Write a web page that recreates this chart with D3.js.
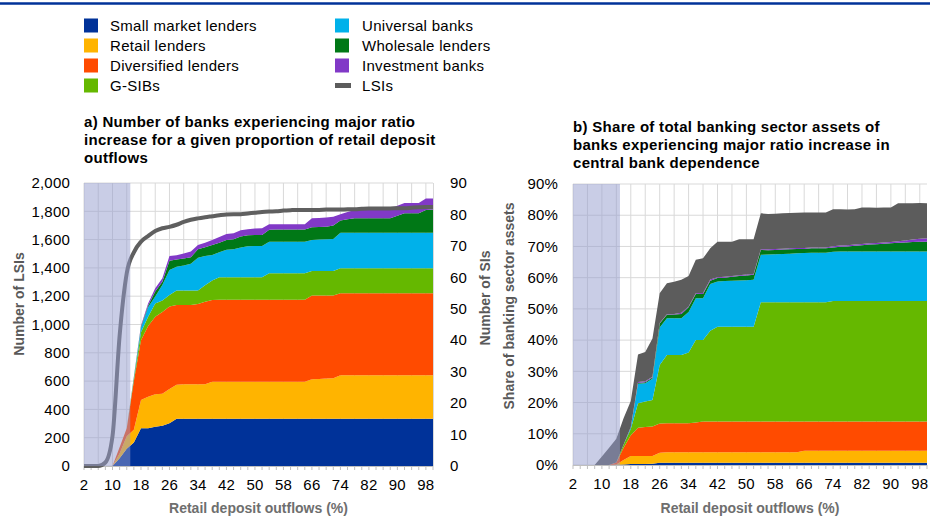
<!DOCTYPE html>
<html><head><meta charset="utf-8">
<script src="https://cdn.jsdelivr.net/npm/d3@7"></script>
<style>
body{margin:0;background:#fff;}
svg{font-family:"Liberation Sans",Arial,sans-serif;}
.tk{font-size:15px;letter-spacing:0.2px;fill:#000;}
.lg{font-size:15px;letter-spacing:0.3px;fill:#000;}
.tt{font-size:15px;letter-spacing:0.3px;font-weight:bold;fill:#000;}
.at{font-size:14px;font-weight:bold;}
</style></head><body>
<svg id="c" width="930" height="518"></svg>
<script>
// ---------- DATA ----------
const outflows = d3.range(2, 101, 2); // retail deposit outflows (%)
const xTickLabels = d3.range(2, 99, 8);
const seriesNames = ["Small market lenders","Retail lenders","Diversified lenders","G-SIBs","Universal banks","Wholesale lenders","Investment banks","LSIs"];
const seriesColors = ["#003299","#ffb400","#ff4b00","#65b800","#00b1ea","#007816","#8139c7","#5c5c5c"];
const shadedUpTo = 15;

// Panel a) number of SIs (right axis) by business model
const smallA = [0,0,0,0,0,2.5,5.5,7.5,12,12, 12.5,12.8,13.6,15,15,15,15,15,15,15, 15,15,15,15,15,15,15,15,15,15, 15,15,15,15,15,15,15,15,15,15, 15,15,15,15,15,15,15,15,15,15];
const retailA = [0,0,0,0,0,1.5,4,4,9,10, 10.3,10.2,10.9,10.8,11,11,11,11,11.8,11.8, 11.8,11.8,11.8,11.8,11.8,11.8,11.8,11.8,11.8,11.8, 11.8,11.8,12.6,12.7,12.8,12.9,13.9,13.9,13.9,13.9, 13.9,13.9,13.9,13.9,13.9,13.9,13.9,13.9,13.9,13.9];
const diversifiedA = [0,0,0,0,0,2,2.5,15.5,19,22.5, 24.7,26,26.2,25.4,25.2,25.2,25.5,26.2,26,26.1, 26.1,26.1,26.1,26.1,26.1,26.1,26.1,26.1,26.1,26.1, 26.1,26.1,26.6,26.5,26.4,26.3,26,26,26,26, 26,26,26,26,26,26,26,26,26,26];
const gsibA = [0,0,0,0,0,0,0,0.7,2.5,3, 4.2,3.6,3.7,4.6,4.6,4.6,4.3,5.3,6.2,7.1, 7.1,7.1,7.1,7.1,7.1,7.1,8.4,8.4,8.4,8.4, 8.4,8.4,7.8,7.8,7.8,7.8,8,8,8,8, 8,8,8,8,8,8,8,8,8,8];
const universalA = [0,0,0,0,0,0,0,0.3,1.5,3, 2.2,5,7.9,7.6,8,8.5,10.4,9.3,8.1,8, 8.8,8.9,9.5,9.9,10,10,10,10,10,10, 10,10,9.9,10,10.1,10.2,11.3,11.3,11.3,11.3, 11.3,11.3,11.3,11.3,11.3,11.3,11.3,11.3,11.3,11.3];
const wholesaleA = [0,0,0,0,0,0,0,0.2,0.3,0.5, 1.6,1,3,2.3,2.2,2.1,2.7,2.8,3.2,3, 3.1,3.2,3.5,3.5,3.5,3.5,3.8,3.9,3.9,3.9, 3.9,3.9,4,4,4,4.3,3.9,4.3,4.6,4.6, 4.6,4.6,4.6,4.6,5.4,6.2,6.2,6.2,7.2,7.4];
const investmentA = [0,0,0,0,0,0,0,0.2,0.4,0.7, 1,1.1,1.5,1.3,1.6,1.8,1.4,1.4,1.6,1.8, 1.9,1.9,2,1.9,2,2.1,1.8,1.7,1.7,1.7, 1.7,1.7,2.9,2.9,2.9,2.8,2,2.3,2.6,2.8, 3.2,3.2,3.2,3.2,3.2,3.2,3.2,3.2,3.7,3.5];
// Panel a) number of LSIs (left axis)
const lsiA = [0,0,0,25,210,920,1362,1510,1585,1625, 1660,1680,1690,1705,1725,1740,1750,1758,1765,1772, 1778,1780,1780,1785,1790,1795,1798,1800,1805,1808, 1810,1810,1810,1810,1812,1812,1812,1815,1815,1818, 1820,1820,1820,1820,1822,1822,1825,1828,1830,1830];

// Panel b) share of total banking sector assets (%)
const smallB = [0,0,0,0,0,0,0.1,0.2,0.3,0.3, 0.3,0.4,0.7,0.7,0.7,0.7,0.7,0.7,0.7,0.7, 0.7,0.7,0.7,0.7,0.7,0.7,0.7,0.7,0.7,0.7, 0.7,0.7,0.7,0.7,0.7,0.7,0.7,0.7,0.7,0.7, 0.7,0.7,0.7,0.7,0.7,0.7,0.7,0.7,0.7,0.7];
const retailB = [0,0,0,0,0,0,0.1,1.4,2.6,2.6, 2.6,2.5,3.2,3.4,3.4,3.4,3.4,3.4,3.4,3.4, 3.4,3.4,3.4,3.4,3.4,3.4,3.4,3.4,3.4,3.4, 3.4,3.4,3.9,3.9,3.9,3.9,3.9,3.9,3.9,3.9, 3.9,3.9,3.9,3.9,3.9,3.9,3.9,3.9,3.9,3.9];
const diversifiedB = [0,0,0,0,0,0,0.6,3.9,6.6,9, 9.3,9.4,9.4,9.3,9.3,9.3,9.3,9.5,9.8,9.8, 9.8,9.8,9.8,9.8,9.8,9.8,9.8,9.8,9.8,9.8, 9.8,9.8,9.3,9.3,9.3,9.3,9.3,9.3,9.3,9.3, 9.3,9.3,9.3,9.3,9.3,9.3,9.3,9.3,9.3,9.3];
const gsibB = [0,0,0,0,0,0,0,1,2,7.9, 8.1,8.5,18.7,21.8,21.8,21.8,22.6,26.4,26.1,29.1, 30.4,30.4,30.4,30.4,30.4,30.4,38.2,38.2,38.2,38.2, 38.2,38.2,38.2,38.2,38.2,38.2,38.6,38.6,38.6,38.6, 38.6,38.6,38.6,38.6,38.6,38.6,38.6,38.6,38.6,38.6];
const universalB = [0,0,0,0,0,0,0,0,0.5,6.2, 5.9,6.8,12,11.8,11.8,11.8,13,13.4,13.4,15, 14.5,14.6,14.7,14.8,14.9,15,15.2,15.3,15.4,15.5, 15.6,15.7,15.8,15.9,15.9,15.9,15.8,15.9,15.9,15.9, 15.9,15.9,15.9,15.9,15.9,15.9,15.9,15.9,15.9,15.9];
const wholesaleB = [0,0,0,0,0,0,0,0,0.1,0.3, 0.3,0.4,1.3,1.1,1.2,1.4,1.5,1.4,1.4,1, 1.1,1.1,1.3,1.4,1.5,1.6,1.6,1.4,1.4,1.4, 1.4,1.4,1.3,1.4,1.4,1.4,1.4,1.5,1.6,1.8, 2,2.2,2.3,2.5,2.6,2.8,2.9,3,3.1,3.1];
const investmentB = [0,0,0,0,0,0,0,0,0.1,0.3, 0.3,0.3,0.2,0.2,0.2,0.4,0.3,0.2,0.3,0.4, 0.2,0.3,0.2,0.3,0.3,0.3,0.2,0.3,0.3,0.3, 0.3,0.3,0.3,0.3,0.3,0.3,0.4,0.4,0.4,0.4, 0.4,0.4,0.4,0.4,0.4,0.5,0.6,0.8,1,1.1];
const lsiB = [0,0,0,0,2.7,5.5,7.6,8.5,8.3,8.8, 9.4,12.2,9.5,9.9,10.3,10.5,9.7,10.7,11.1,10, 11.4,11.2,11,11.5,11.3,11.1,11.5,11.3,11.3,11.3, 11.3,11.3,11.4,11.2,11.2,11.2,11.8,11.6,11.4,11.3, 11.7,11.5,11.3,11.2,11.1,12.1,11.9,11.6,11.4,11.2];

const titleA = ["a) Number of banks experiencing major ratio","increase for a given proportion of retail deposit","outflows"];
const titleB = ["b) Share of total banking sector assets of","banks experiencing major ratio increase in","central bank dependence"];
const lsiTicks = d3.range(0, 2001, 200);
const siTicks = d3.range(0, 91, 10);
const shareTicks = d3.range(0, 91, 10);

// ---------- DRAW ----------
const svg = d3.select("#c");
svg.append("rect").attr("width",930).attr("height",518).attr("fill","#fff");
svg.append("line").attr("x1",0).attr("x2",930).attr("y1",3.5).attr("y2",3.5)
  .attr("stroke","#003299").attr("stroke-width",2.5);

// legend
const legend = svg.append("g");
seriesNames.forEach((n,i)=>{
  const col = i < 4 ? 0 : 1, row = i % 4;
  const lx = col === 0 ? 84 : 335, ly = 25.5 + row*20;
  if (n === "LSIs") {
    legend.append("rect").attr("x",lx).attr("y",ly-2.5).attr("width",16).attr("height",5).attr("fill",seriesColors[i]);
  } else {
    legend.append("rect").attr("x",lx).attr("y",ly-7).attr("width",14).attr("height",14).attr("fill",seriesColors[i]);
  }
  legend.append("text").attr("class","lg").attr("x",col===0?110:362).attr("y",ly).attr("dy","0.35em").text(n);
});

function table(arrs){
  return outflows.map((x,i)=>{ const o={x}; arrs.forEach((a,k)=>o[seriesNames[k]]=a[i]); return o; });
}

function panel(cfg){
  const g = svg.append("g");
  const x = d3.scaleLinear().domain([2,100]).range(cfg.xr);
  const y = d3.scaleLinear().domain([0,90]).range(cfg.yr);
  const yGrid = cfg.gridScale;
  cfg.gridTicks.forEach(t=>{
    g.append("line").attr("x1",cfg.xr[0]).attr("x2",cfg.xr[1]).attr("y1",yGrid(t)).attr("y2",yGrid(t))
      .attr("stroke","#d9d9d9").attr("stroke-width",1);
  });
  d3.range(2,100,4).forEach(t=>{
    g.append("line").attr("x1",x(t)).attr("x2",x(t)).attr("y1",cfg.yr[0]).attr("y2",cfg.yr[1])
      .attr("stroke","#d9d9d9").attr("stroke-width",1);
  });
  const keys = seriesNames.slice(0, cfg.arrays.length);
  const stacked = d3.stack().keys(keys)(table(cfg.arrays));
  const area = d3.area().x(d=>x(d.data.x)).y0(d=>y(d[0])).y1(d=>y(d[1]));
  stacked.forEach((s,i)=>{
    g.append("path").attr("d",area(s)).attr("fill",seriesColors[i]);
  });
  g.append("line").attr("x1",cfg.xr[0]).attr("x2",cfg.xr[1]).attr("y1",cfg.yr[0]+0.5).attr("y2",cfg.yr[0]+0.5)
    .attr("stroke","#bfbfbf").attr("stroke-width",1.2);
  d3.range(2,101,2).forEach(t=>{
    g.append("line").attr("x1",x(t)).attr("x2",x(t)).attr("y1",cfg.yr[0]).attr("y2",cfg.yr[0]+4)
      .attr("stroke","#bfbfbf").attr("stroke-width",1);
  });
  xTickLabels.forEach(t=>{
    g.append("text").attr("class","tk").attr("x",x(t)).attr("y",cfg.yr[0]+24).attr("text-anchor","middle").text(t);
  });
  g.append("text").attr("class","at").attr("x",(cfg.xr[0]+cfg.xr[1])/2).attr("y",513).attr("text-anchor","middle")
    .attr("fill","#6e6e6e").text("Retail deposit outflows (%)");
  cfg.title.forEach((t,i)=>{
    g.append("text").attr("class","tt").attr("x",cfg.xr[0]).attr("y",cfg.titleY+i*18).text(t);
  });
  return {g,x,y};
}

// Panel a
const yLSI = d3.scaleLinear().domain([0,2000]).range([466,183]);
const pA = panel({xr:[84,433], yr:[466,183], gridScale:yLSI, gridTicks:lsiTicks,
  arrays:[smallA,retailA,diversifiedA,gsibA,universalA,wholesaleA,investmentA], title:titleA, titleY:127});
pA.g.append("path").datum(outflows.map((x,i)=>[x,lsiA[i]]))
  .attr("d",d3.line().x(d=>pA.x(d[0])).y(d=>yLSI(d[1])).curve(d3.curveMonotoneX))
  .attr("fill","none").attr("stroke","#5f5f5f").attr("stroke-width",4).attr("stroke-linejoin","round");
pA.g.append("rect").attr("x",pA.x(2)).attr("y",183).attr("width",pA.x(shadedUpTo)-pA.x(2)).attr("height",283)
  .attr("fill","rgb(148,156,206)").attr("fill-opacity",0.5);
pA.g.append("line").attr("x1",433.5).attr("x2",433.5).attr("y1",183).attr("y2",466).attr("stroke","#d9d9d9");
lsiTicks.forEach(t=>{
  pA.g.append("text").attr("class","tk").attr("x",70).attr("y",yLSI(t)).attr("dy","0.35em").attr("text-anchor","end")
    .text(d3.format(",")(t));
});
siTicks.forEach(t=>{
  pA.g.append("text").attr("class","tk").attr("x",450).attr("y",pA.y(t)).attr("dy","0.35em").attr("text-anchor","start").text(t);
});
svg.append("text").attr("class","at").attr("transform","translate(24,304) rotate(-90)").attr("text-anchor","middle")
  .attr("fill","#595959").text("Number of LSIs");
svg.append("text").attr("class","at").attr("transform","translate(490,298) rotate(-90)").attr("text-anchor","middle")
  .attr("fill","#595959").text("Number of SIs");

// Panel b
const pB = panel({xr:[573,927], yr:[465,184], gridScale:d3.scaleLinear().domain([0,90]).range([465,184]), gridTicks:shareTicks,
  arrays:[smallB,retailB,diversifiedB,gsibB,universalB,wholesaleB,investmentB,lsiB], title:titleB, titleY:132});
pB.g.append("rect").attr("x",pB.x(2)).attr("y",184).attr("width",pB.x(shadedUpTo)-pB.x(2)).attr("height",281)
  .attr("fill","rgb(148,156,206)").attr("fill-opacity",0.5);
shareTicks.forEach(t=>{
  pB.g.append("text").attr("class","tk").attr("x",558).attr("y",pB.y(t)).attr("dy","0.35em").attr("text-anchor","end").text(t+"%");
});
svg.append("text").attr("class","at").attr("transform","translate(514,306) rotate(-90)").attr("text-anchor","middle")
  .attr("fill","#595959").text("Share of banking sector assets");
</script>
</body></html>
